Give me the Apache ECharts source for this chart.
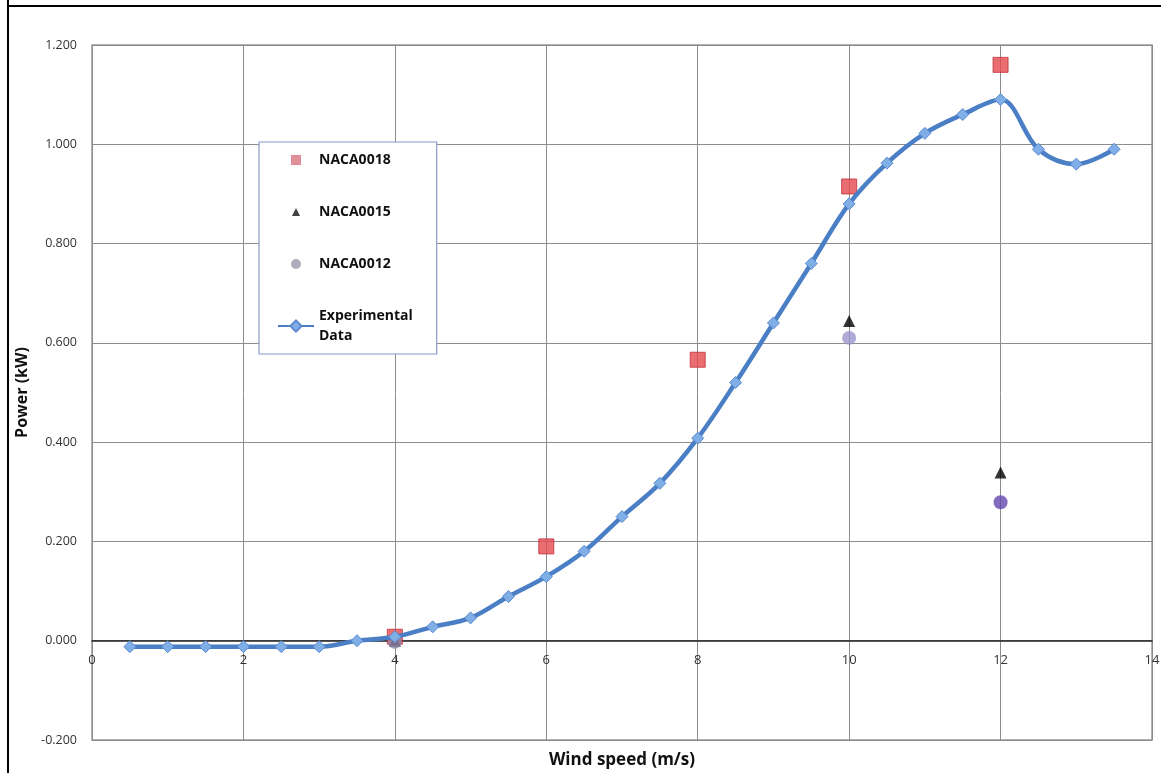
<!DOCTYPE html>
<html>
<head>
<meta charset="utf-8">
<script src="https://cdn.jsdelivr.net/npm/echarts@6/dist/echarts.min.js"></script>
<style>
html,body{margin:0;padding:0;background:#fff;}
#chart{width:1161px;height:773px;}
</style>
</head>
<body>
<div id="chart"></div>
<script>
// Experimental data
const expSpeed = [0.5,1,1.5,2,2.5,3,3.5,4,4.5,5,5.5,6,6.5,7,7.5,8,8.5,9,9.5,10,10.5,11,11.5,12,12.5,13,13.5];
const expPower = [-0.012,-0.012,-0.012,-0.012,-0.012,-0.012,0.0,0.008,0.028,0.046,0.089,0.129,0.18,0.25,0.317,0.408,0.52,0.64,0.76,0.88,0.962,1.022,1.06,1.09,0.99,0.96,0.99];
// NACA0018
const n18Speed = [4,6,8,10,12];
const n18Power = [0.008,0.19,0.566,0.915,1.16];
// NACA0015
const n15Speed = [4,10,12];
const n15Power = [0.0,0.644,0.339];
// NACA0012
const n12Speed = [4,10,12];
const n12Power = [-0.002,0.61,0.279];
const n12Colors = ['#8f8aa8','#9c96cc','#6247b0'];

const yTicksFmt = v => v.toFixed(3);

const chart = echarts.init(document.getElementById('chart'), null, {renderer:'canvas'});
const pair = (xs, ys) => xs.map((x,i)=>[x, ys[i]]);

// legend icons: small shapes centred in a 36x14 box
const BOX = 'M0 0 M36 14 ';
const iconSquare = 'path://' + BOX + 'M13 2 L23 2 L23 12 L13 12 Z';
const iconTri = 'path://' + BOX + 'M18 3 L22 11 L14 11 Z';
const iconCircle = 'path://' + BOX + 'M13 7 A5 5 0 1 0 23 7 A5 5 0 1 0 13 7 Z';

chart.setOption({
  backgroundColor:'#ffffff',
  animation:false,
  textStyle:{fontFamily:'"Open Sans","Noto Sans",sans-serif'},
  grid:{left:92,right:9,top:45,bottom:33,show:true,borderColor:'#9a9a9a',borderWidth:1.5,
        containLabel:false,outerBoundsMode:'none'},
  legend:{
    orient:'vertical',left:259,top:142,
    backgroundColor:'#ffffff',borderColor:'#8a9cc4',borderWidth:1.2,
    padding:[8,24,8,18],itemGap:32,itemWidth:36,itemHeight:14,
    textStyle:{fontSize:14,fontWeight:'bold',color:'#111',fontFamily:'"Open Sans",sans-serif',lineHeight:20},
    data:[
      {name:'NACA0018',icon:iconSquare,itemStyle:{color:'#d9707a',borderWidth:0}},
      {name:'NACA0015',icon:iconTri,itemStyle:{color:'#111',borderWidth:0}},
      {name:'NACA0012',icon:iconCircle,itemStyle:{color:'#9a98ae',borderWidth:0}},
      {name:'Experimental Data'}
    ],
    formatter: n => n==='Experimental Data' ? 'Experimental\nData' : n
  },
  xAxis:{
    type:'value',min:0,max:14,interval:2,
    name:'Wind speed (m/s)',nameLocation:'middle',nameGap:12,
    nameTextStyle:{fontSize:17,fontWeight:'bold',color:'#111',fontFamily:'"Open Sans",sans-serif'},
    axisLine:{show:true,onZero:true,lineStyle:{color:'#222',width:1.5}},
    axisTick:{show:false},
    axisLabel:{fontSize:13,color:'#333',margin:-86},
    splitLine:{show:true,lineStyle:{color:'#8c8c8c',width:1}}
  },
  yAxis:{
    type:'value',min:-0.2,max:1.2,interval:0.2,
    name:'Power (kW)',nameLocation:'middle',nameGap:62,nameRotate:90,
    nameTextStyle:{fontSize:16,fontWeight:'bold',color:'#111',fontFamily:'"Open Sans",sans-serif'},
    axisLine:{show:false},axisTick:{show:false},
    axisLabel:{fontSize:12.5,color:'#333',margin:15,formatter:yTicksFmt},
    splitLine:{show:true,lineStyle:{color:'#8c8c8c',width:1}}
  },
  series:[
    {
      name:'Experimental Data',type:'line',smooth:0.35,
      data:pair(expSpeed,expPower),
      symbol:'diamond',symbolSize:12,
      lineStyle:{color:'#4a7fc6',width:4.5},
      itemStyle:{color:'#80aee6',borderColor:'#5a8ad0',borderWidth:1},
      z:3
    },
    {
      name:'NACA0018',type:'scatter',symbol:'rect',symbolSize:15,
      data:pair(n18Speed,n18Power),
      itemStyle:{color:'#e5484f',borderColor:'#c0303a',borderWidth:1},
      z:2
    },
    {
      name:'NACA0015',type:'scatter',symbol:'triangle',symbolSize:12,
      data:pair(n15Speed,n15Power),
      itemStyle:{color:'#000000'},
      z:2
    },
    {
      name:'NACA0012',type:'scatter',symbol:'circle',symbolSize:14,
      data:pair(n12Speed,n12Power).map((p,i)=>({value:p,itemStyle:{color:n12Colors[i]}})),
      itemStyle:{color:'#9590b8'},
      z:2
    }
  ],
  graphic:[
    {type:'line',shape:{x1:8,y1:0,x2:8,y2:773},style:{stroke:'#000',lineWidth:2},silent:true},
    {type:'line',shape:{x1:8,y1:6,x2:1161,y2:6},style:{stroke:'#000',lineWidth:2},silent:true}
  ]
});
</script>
</body>
</html>
